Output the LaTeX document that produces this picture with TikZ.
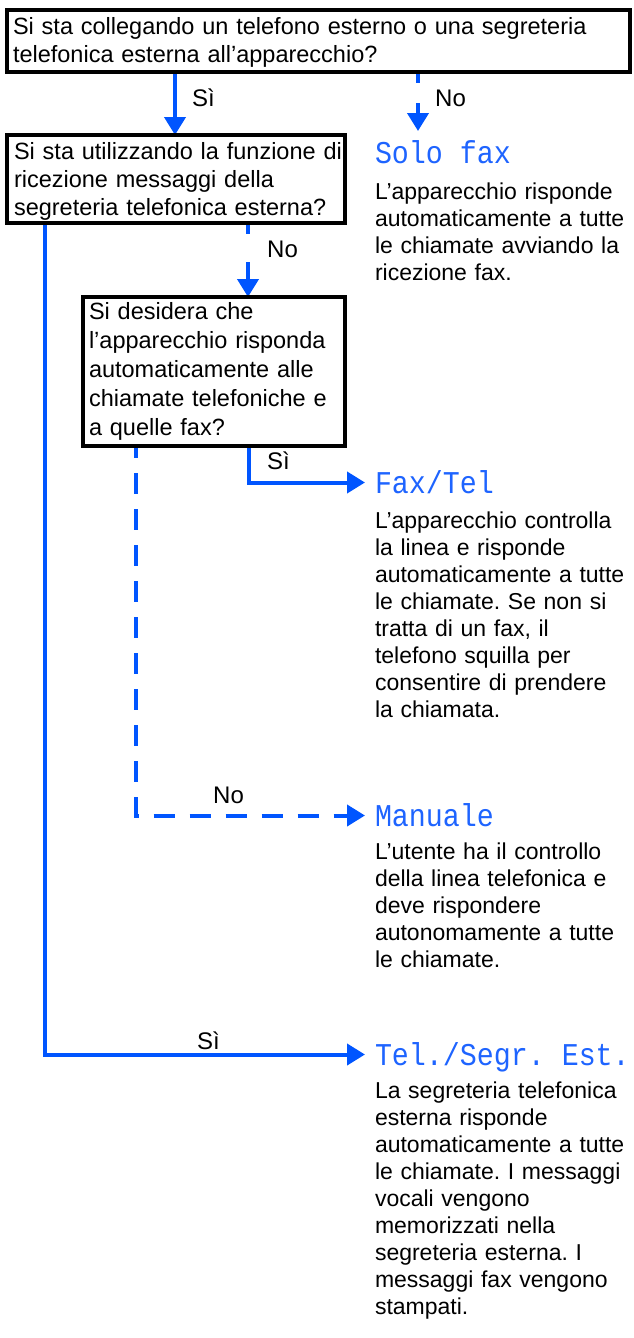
\documentclass[tikz,border=0pt]{standalone}
\usepackage{fontspec}
\setmainfont{Liberation Sans}
\newfontfamily\monof{Liberation Mono}
\usetikzlibrary{arrows.meta,calc,backgrounds}
\definecolor{fblue}{RGB}{0,85,255}
\definecolor{tblue}{RGB}{30,100,255}
\newcommand{\oneline}[1]{\mbox{#1}}
\newcommand{\ttltext}[1]{\scalebox{1}[1.12]{#1}}
\frenchspacing
\begin{document}
\begin{tikzpicture}[x=1pt,y=-1pt,
  qbox/.style={draw=black, line width=3.2pt, rectangle, anchor=north west, outer sep=0pt,
    inner ysep=0pt, align=left, font=\fontsize{23.5}{28}\selectfont\frenchspacing},
  desc/.style={anchor=north west, inner sep=0pt, outer sep=0pt, text width=258pt, align=left,
    font=\fontsize{23}{27.1}\selectfont\frenchspacing},
  ttl/.style={anchor=base west, inner sep=0pt, outer sep=0pt, text=tblue,
    font=\monof\fontsize{28.3}{30}\selectfont},
  lbl/.style={anchor=base west, inner sep=0pt, font=\fontsize{24}{28}\selectfont},
  conn/.style={draw=fblue, line width=4pt, -{Triangle[length=18pt,width=21pt]}}
]
\useasboundingbox (0,0) rectangle (633,1338);

% question boxes
\node[qbox, inner xsep=6pt, minimum width=623pt, minimum height=62pt, text width=611pt] (q1) at (7,10)
  {\rule{0pt}{25pt}\oneline{Si sta collegando un telefono esterno o una segreteria}\\
   \oneline{telefonica esterna all’apparecchio?}\rule[-9pt]{0pt}{0pt}};
\node[qbox, inner xsep=7pt, minimum width=338pt, minimum height=88pt, text width=324pt] (q2) at (7,135)
  {\rule{0pt}{24pt}\oneline{Si sta utilizzando la funzione di}\\
   \oneline{ricezione messaggi della}\\
   \oneline{segreteria telefonica esterna?}\rule[-8pt]{0pt}{0pt}};
\node[qbox, inner xsep=6pt, minimum width=262pt, minimum height=149pt, text width=250pt,
  font=\fontsize{23.5}{29}\selectfont] (q3) at (83,297)
  {\rule{0pt}{22pt}\oneline{Si desidera che}\\
   \oneline{l’apparecchio risponda}\\
   \oneline{automaticamente alle}\\
   \oneline{chiamate telefoniche e}\\
   \oneline{a quelle fax?}\rule[-11pt]{0pt}{0pt}};

% result titles
\node[ttl] (solo) at (375,163) {\ttltext{Solo fax}};
\node[ttl] (faxtel) at (375,493) {\ttltext{Fax/Tel}};
\node[ttl] (manuale) at (375,826) {\ttltext{Manuale}};
\node[ttl] (telsegr) at (375,1065) {\ttltext{Tel./Segr. Est.}};

% descriptions
\node[desc] (d1) at (375,179) {\rule{0pt}{20pt}L’apparecchio risponde\\
  automaticamente a tutte\\le chiamate avviando la\\ricezione fax.};
\node[desc] (d2) at (375,508) {\rule{0pt}{20pt}L’apparecchio controlla\\
  la linea e risponde\\automaticamente a tutte\\le chiamate. Se non si\\tratta di un fax, il\\
  telefono squilla per\\consentire di prendere\\la chiamata.};
\node[desc] (d3) at (375,839) {\rule{0pt}{20pt}L’utente ha il controllo\\
  della linea telefonica e\\deve rispondere\\autonomamente a tutte\\le chiamate.};
\node[desc] (d4) at (375,1078) {\rule{0pt}{20pt}La segreteria telefonica\\
  esterna risponde\\automaticamente a tutte\\le chiamate. I messaggi\\vocali vengono\\
  memorizzati nella\\segreteria esterna. I\\messaggi fax vengono\\stampati.};

% labels
\node[lbl] (l1) at (192,106) {Sì};
\node[lbl] (l2) at (435,106) {No};
\node[lbl] (l3) at (267,257) {No};
\node[lbl] (l4) at (267,469) {Sì};
\node[lbl] (l5) at (213,803) {No};
\node[lbl] (l6) at (197,1049) {Sì};

% helper coordinates
\coordinate (xa) at (175,0);
\coordinate (xb) at (418,0);
\coordinate (xc) at (248,0);
\coordinate (xd) at (45,0);
\coordinate (xe) at (249,0);
\coordinate (xf) at (136,0);
\coordinate (nofaxend) at (418,131);

\begin{pgfonlayer}{background}
\fill[white] (0,0) rectangle (633,1338);
\draw[conn] (q1.south -| xa) -- (q2.north -| xa);
\draw[conn, dash pattern=on 11pt off 20pt on 200pt] (q1.south -| xb) -- (nofaxend);
\draw[conn, dash pattern=on 11pt off 28pt on 200pt] (q2.south -| xc) -- (q3.north -| xc);
\draw[conn] (q2.south -| xd) |- ([xshift=-10pt,yshift=10.5pt]telsegr.base west);
\draw[conn] (q3.south -| xe) |- ([xshift=-10pt,yshift=10.5pt]faxtel.base west);
\draw[conn, dash pattern=on 21pt off 15pt, dash phase=9pt] (q3.south -| xf) |- ([xshift=-10pt,yshift=10.5pt]manuale.base west);
\end{pgfonlayer}
\end{tikzpicture}
\end{document}
